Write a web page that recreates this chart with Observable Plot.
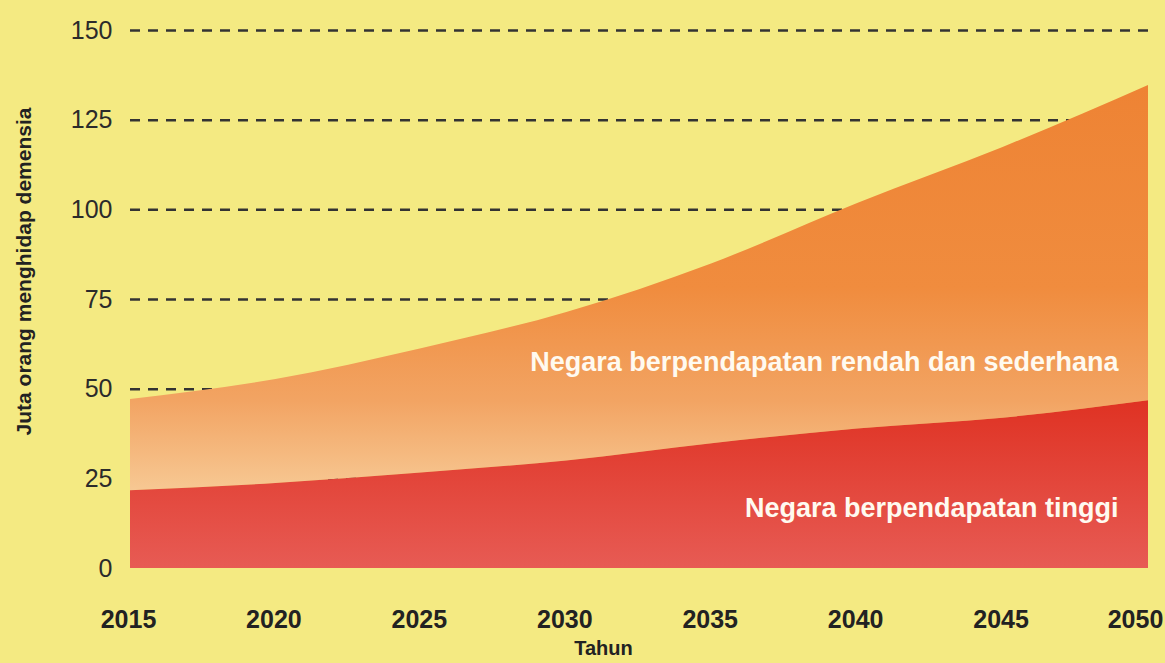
<!DOCTYPE html>
<html>
<head>
<meta charset="utf-8">
<script src="https://cdn.jsdelivr.net/npm/d3@7"></script>
<script src="https://cdn.jsdelivr.net/npm/@observablehq/plot@0.6"></script>
<style>
  html, body { margin: 0; padding: 0; background: #f4ea82; overflow: hidden; }
  #chart svg { display: block; }
</style>
</head>
<body>
<div id="chart"></div>
<script>
// ---- data (million people living with dementia) ----
const years = [2015, 2020, 2025, 2030, 2035, 2040, 2045, 2050];
const highIncome = [21.7, 23.7, 26.6, 30.0, 34.8, 38.9, 41.9, 46.8];
const lowMiddleIncome = [25.4, 29.0, 34.7, 41.4, 50.2, 62.9, 75.5, 87.9];
const yTicks = [0, 25, 50, 75, 100, 125, 150];
const xTicks = [2015, 2020, 2025, 2030, 2035, 2040, 2045];
const xTickLast = [2050];
const seriesLabels = ["Negara berpendapatan rendah dan sederhana", "Negara berpendapatan tinggi"];
const labelYears = [2050, 2050];
const labelValues = [57.4, 16.7];
const yTitle = "Juta orang menghidap demensia";
const xTitle = "Tahun";

const rows = years.map((year, i) => ({
  year,
  high: highIncome[i],
  total: highIncome[i] + lowMiddleIncome[i]
}));
const labels = seriesLabels.map((text, i) => ({text, year: labelYears[i], value: labelValues[i]}));

const font = "Liberation Sans, Arial, Helvetica, sans-serif";

const chart = Plot.plot({
  width: 1165,
  height: 663,
  marginLeft: 130,
  marginRight: 17,
  marginTop: 30,
  marginBottom: 95,
  style: {background: "#f4ea82", fontFamily: font},
  x: {domain: [2015, 2050]},
  y: {domain: [0, 150]},
  marks: [
    Plot.ruleY(yTicks.slice(1), {y: d => d, stroke: "#333", strokeWidth: 2.5, strokeDasharray: "10,8"}),
    Plot.areaY(rows, {x: "year", y1: "high", y2: "total", fill: "url(#gradOrange)", curve: "monotone-x"}),
    Plot.areaY(rows, {x: "year", y: "high", fill: "url(#gradRed)", curve: "monotone-x"}),
    Plot.axisY(yTicks, {tickSize: 0, tickPadding: 18, fontSize: 25, fill: "#2b2b2b", label: null}),
    Plot.axisX(xTicks, {tickSize: 0, tickPadding: 42, fontSize: 25, fontWeight: "bold", fill: "#222", dx: -2, label: null, tickFormat: d => String(d)}),
    Plot.axisX(xTickLast, {tickSize: 0, tickPadding: 42, fontSize: 25, fontWeight: "bold", fill: "#222", dx: -13, label: null, tickFormat: d => String(d)}),
    Plot.text(labels, {x: "year", y: "value", text: "text", textAnchor: "end", dx: -30, fill: "#fffaf0", fontSize: 27, fontWeight: "bold"}),
    Plot.text([yTitle], {frameAnchor: "left", textAnchor: "middle", rotate: -90, dx: -106, dy: -28, fontSize: 21, fontWeight: "bold", fill: "#222"}),
    Plot.text([xTitle], {frameAnchor: "bottom", dx: -36, dy: 86, fontSize: 20, fontWeight: "bold", fill: "#222"})
  ]
});

// gradients for the area fills
const ns = "http://www.w3.org/2000/svg";
const defs = document.createElementNS(ns, "defs");
function grad(id, stops) {
  const g = document.createElementNS(ns, "linearGradient");
  g.setAttribute("id", id);
  g.setAttribute("x1", "0"); g.setAttribute("y1", "0");
  g.setAttribute("x2", "0"); g.setAttribute("y2", "1");
  stops.forEach(([o, c]) => {
    const s = document.createElementNS(ns, "stop");
    s.setAttribute("offset", o);
    s.setAttribute("stop-color", c);
    g.appendChild(s);
  });
  defs.appendChild(g);
}
grad("gradOrange", [["0", "#ee8334"], ["0.5", "#f08c3e"], ["0.78", "#f2a463"], ["1", "#f7c893"]]);
grad("gradRed", [["0", "#df3223"], ["1", "#e75b54"]]);
chart.insertBefore(defs, chart.firstChild);

document.getElementById("chart").appendChild(chart);
</script>
</body>
</html>
